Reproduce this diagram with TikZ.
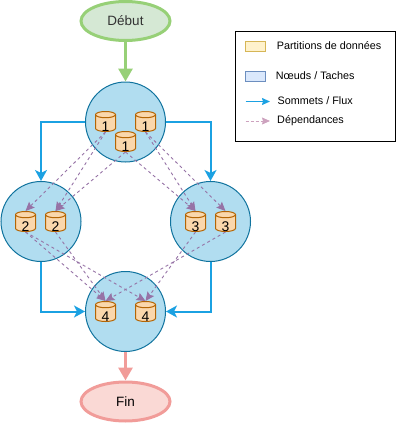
\documentclass[tikz,border=0pt]{standalone}
\usepackage{fontspec}
\setmainfont{Liberation Sans}
\usepackage{tikz}
\usetikzlibrary{positioning, arrows.meta, shapes.geometric}
\definecolor{fluxblue}{HTML}{1BA1E2}
\definecolor{depviolet}{HTML}{9673A6}
\definecolor{deppink}{HTML}{CDA2BE}
\definecolor{taskline}{HTML}{10739E}
\definecolor{taskfill}{HTML}{B1DDF0}
\definecolor{partline}{HTML}{B46504}
\definecolor{partfill}{HTML}{FAD7AC}
\definecolor{startline}{HTML}{97D077}
\definecolor{startfill}{HTML}{D5E8D4}
\definecolor{endline}{HTML}{F19C99}
\definecolor{endfill}{HTML}{FAD9D5}
\definecolor{swpartline}{HTML}{D6B656}
\definecolor{swpartfill}{HTML}{FFF2CC}
\definecolor{swtaskline}{HTML}{6C8EBF}
\definecolor{swtaskfill}{HTML}{DAE8FC}

\begin{document}
\begin{tikzpicture}[x=1pt,y=-1pt,
        task/.style={circle,draw=taskline,fill=taskfill,line width=1pt,minimum size=80pt,inner sep=0pt},
        part/.style={cylinder,shape border rotate=90,aspect=0.8,anchor=shape center,draw=partline,fill=partfill,line width=1pt,minimum height=20pt,minimum width=20pt,inner sep=0pt,font=\fontsize{14}{14}\selectfont},
        terminal/.style={ellipse,line width=3pt,minimum width=89pt,minimum height=39pt,inner sep=0pt,font=\fontsize{13.5}{13.5}\selectfont},
        flux/.style={draw=fluxblue,line width=2pt,-{Stealth[length=11pt,width=12pt,inset=3pt]}},
        dep/.style={draw=depviolet,line width=0.9pt,dashed,dash pattern=on 3pt off 3pt,-{Stealth[length=9pt,width=8pt,inset=1.5pt]}},
        swatch/.style={rectangle,line width=1pt,minimum width=20pt,minimum height=10pt,inner sep=0pt},
        legendtext/.style={anchor=west,inner sep=0pt,font=\fontsize{10.8}{10.8}\selectfont}]

        \useasboundingbox (0,0) rectangle (401,423);

        \newcommand{\digit}[1]{\smash{\raisebox{-8pt}{#1}}}

        \node[terminal,draw=startline,fill=startfill,text=black!80] (debut) at (125.5,21) {Début};
        \node[terminal,draw=endline,fill=endfill] (fin) at (125.5,401.5) {Fin};

        \node[task] (n1) at (125.5,122) {};
        \node[task] (n2) at (41,221.5) {};
        \node[task] (n3) at (210.5,221.5) {};
        \node[task] (n4) at (125.5,311.5) {};

        \node[part] (p1a) at (105.5,121.5) {\digit{1}};
        \node[part] (p1b) at (145.5,121.5) {\digit{1}};
        \node[part] (p1c) at (125.5,141.5) {\digit{1}};
        \node[part] (p2a) at (25.5,221.5) {\digit{2}};
        \node[part] (p2b) at (55.5,221.5) {\digit{2}};
        \node[part] (p3a) at (195.5,221.5) {\digit{3}};
        \node[part] (p3b) at (225.5,221.5) {\digit{3}};
        \node[part] (p4a) at (105.5,311.5) {\digit{4}};
        \node[part] (p4b) at (145.5,311.5) {\digit{4}};

        \draw[draw=startline,line width=3pt,-{Triangle[length=13pt,width=14pt]}] (debut) -- (n1);
        \draw[draw=endline,line width=3pt,-{Triangle[length=13pt,width=14pt]}] (n4) -- (fin);

        \draw[flux] (n1.west) -| (n2.north);
        \draw[flux] (n1.east) -| (n3.north);
        \draw[flux] (n2.south) |- (n4.west);
        \draw[flux] (n3.south) |- (n4.east);

        \path
                  (p1a.south) edge [dep] (p2a.north)
                  (p1a.south) edge [dep] (p2b.north)
                  (p1c.south) edge [dep] (p2b.north)
                  (p1c.south) edge [dep] (p3a.north)
                  (p1b.south) edge [dep] (p3a.north)
                  (p1b.south) edge [dep] (p3b.north)

                  (p2a.south) edge [dep] (p4a.north)
                  (p2a.south) edge [dep] (p4b.north)
                  (p2b.south) edge [dep] (p4a.north)
                  (p3a.south) edge [dep] (p4b.north)
                  (p3b.south) edge [dep] (p4a.north);

        % legend
        \node[draw=black,line width=1pt,minimum width=160pt,minimum height=109.5pt,inner sep=0pt] (legend) at (315.7,86.5) {};
        \node[swatch,draw=swpartline,fill=swpartfill] (swpart) at (255.5,46.5) {};
        \node[swatch,draw=swtaskline,fill=swtaskfill] (swtask) at (255.5,76.5) {};
        \node[legendtext] (lbpart) at (276.7,45.7) {Partitions de données};
        \node[legendtext] (lbtask) at (275.7,76) {Nœuds / Taches};
        \node[legendtext] (lbflux) at (277.5,101) {Sommets / Flux};
        \node[legendtext] (lbdep) at (277,120.7) {Dépendances};
        \coordinate (fluxa) at (245.5,101.5);
        \coordinate (fluxb) at (270,101.5);
        \coordinate (depa) at (245.5,121);
        \coordinate (depb) at (270,121);
        \draw[draw=fluxblue,line width=1pt,-{Stealth[length=8pt,width=7pt,inset=1pt]}] (fluxa) -- (fluxb);
        \draw[draw=deppink,line width=0.8pt,dashed,dash pattern=on 3pt off 2pt,-{Stealth[length=8pt,width=7pt,inset=1pt]}] (depa) -- (depb);
\end{tikzpicture}
\end{document}
